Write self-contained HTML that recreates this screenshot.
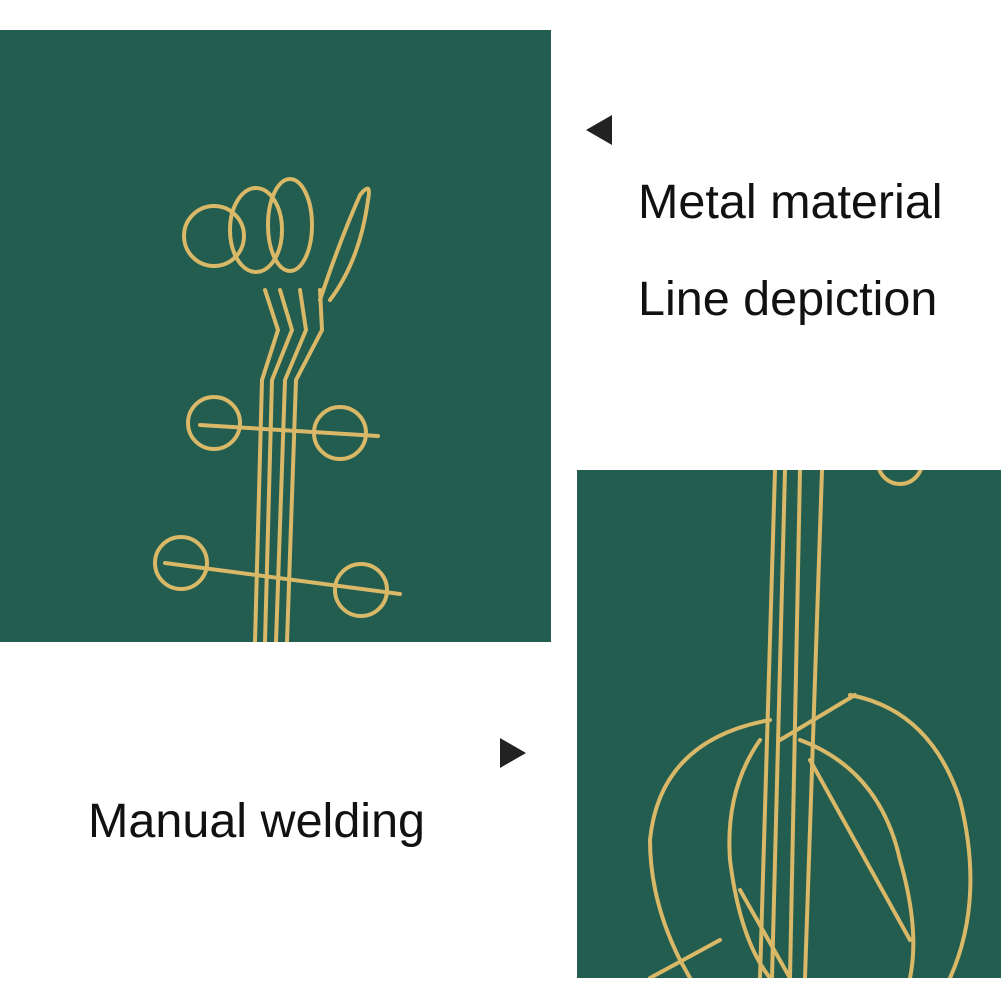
<!DOCTYPE html>
<html><head><meta charset="utf-8"><style>
html,body{margin:0;padding:0;background:#fff;width:1001px;height:1001px;overflow:hidden;position:relative;font-family:"Liberation Sans",sans-serif}
.t{position:absolute;font-size:48.5px;color:#111;white-space:nowrap;line-height:1}
</style></head><body>
<svg width="1001" height="1001" style="position:absolute;left:0;top:0">
<defs><clipPath id="c1"><rect x="0" y="30" width="551" height="612"/></clipPath>
<clipPath id="c2"><rect x="577" y="470" width="424" height="508"/></clipPath></defs>
<rect x="0" y="30" width="551" height="612" fill="#225d50"/>
<rect x="577" y="470" width="424" height="508" fill="#225d50"/>
<g fill="none" stroke="#d9b867" stroke-width="4" stroke-linecap="round" clip-path="url(#c1)">
<circle cx="214" cy="236" r="30"/>
<ellipse cx="256" cy="230" rx="26" ry="42"/>
<ellipse cx="290" cy="225" rx="22" ry="46"/>
<path d="M330 300 Q360 260 368 200 Q372 180 360 195 Q340 240 320 300"/>
<path d="M265 290 L278 330 L262 380 L255 642"/>
<path d="M280 290 L292 330 L272 380 L265 642"/>
<path d="M300 290 L306 330 L285 380 L276 642"/>
<path d="M320 290 L322 330 L296 380 L287 642"/>
<circle cx="214" cy="423" r="26"/>
<circle cx="340" cy="433" r="26"/>
<line x1="200" y1="425" x2="378" y2="436"/>
<circle cx="181" cy="563" r="26"/>
<circle cx="361" cy="590" r="26"/>
<line x1="165" y1="563" x2="400" y2="594"/>
</g>
<g fill="none" stroke="#d9b867" stroke-width="4" stroke-linecap="round" clip-path="url(#c2)">
<path d="M775 470 L760 978"/><path d="M785 470 L772 978"/><path d="M800 470 L790 978"/><path d="M822 470 L805 978"/>
<circle cx="900" cy="462" r="22"/>
<path d="M770 720 Q660 740 650 840 Q650 900 680 960 L690 978"/>
<path d="M850 695 Q930 710 960 800 Q985 900 950 978"/>
<path d="M760 740 Q725 790 730 860 Q740 940 770 978"/>
<path d="M800 740 Q880 770 900 860 Q920 930 910 978"/>
<path d="M780 740 L855 695"/>
<path d="M810 760 L910 940"/>
<path d="M740 890 L790 978"/>
<path d="M650 978 L720 940"/>
</g>
<polygon points="586,130 612,115 612,145" fill="#222"/>
<polygon points="500,738 526,753 500,768" fill="#222"/>
</svg>
<div class="t" style="left:638px;top:178px">Metal material</div>
<div class="t" style="left:638px;top:275px">Line depiction</div>
<div class="t" style="left:88px;top:797px">Manual welding</div>
</body></html>
